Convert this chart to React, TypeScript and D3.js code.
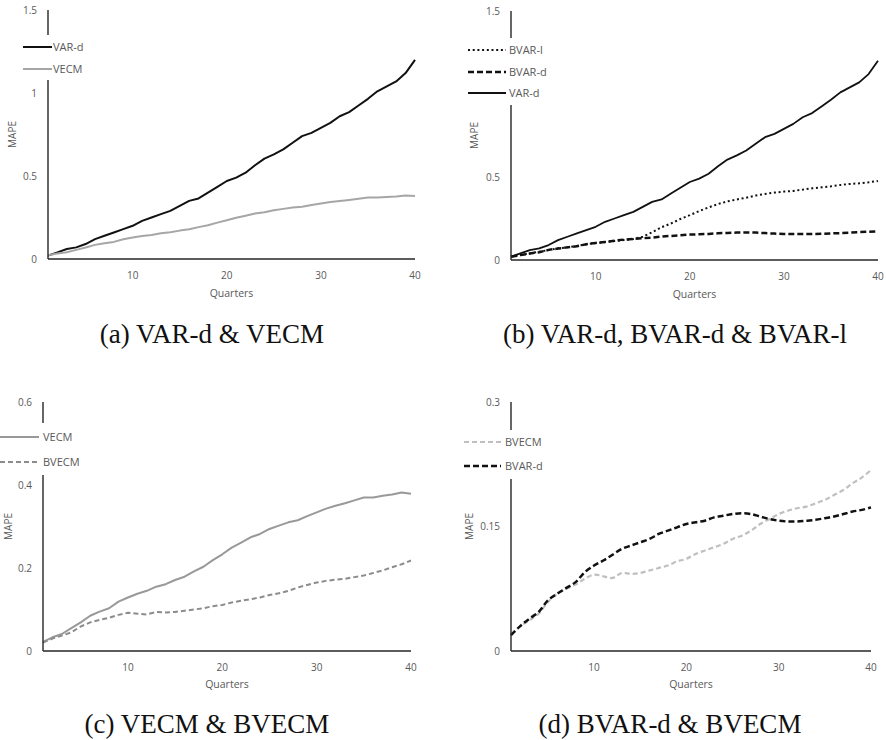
import React from 'react';
import * as d3 from 'd3';

// quarters 1..40 on the x axis
const quarters = [
  1, 2, 3, 4, 5, 6, 7, 8, 9, 10, 11, 12, 13, 14, 15, 16, 17, 18, 19, 20,
  21, 22, 23, 24, 25, 26, 27, 28, 29, 30, 31, 32, 33, 34, 35, 36, 37, 38, 39, 40,
];

const varD = [
  0.02, 0.04, 0.06, 0.07, 0.09, 0.12, 0.14, 0.16, 0.18, 0.2,
  0.23, 0.25, 0.27, 0.29, 0.32, 0.35, 0.365, 0.4, 0.435, 0.47,
  0.49, 0.52, 0.565, 0.605, 0.63, 0.66, 0.7, 0.74, 0.76, 0.79,
  0.82, 0.86, 0.885, 0.925, 0.965, 1.01, 1.04, 1.07, 1.12, 1.2,
];

const vecm = [
  0.022, 0.033, 0.041, 0.055, 0.069, 0.085, 0.095, 0.103, 0.119, 0.129,
  0.138, 0.145, 0.155, 0.161, 0.171, 0.179, 0.192, 0.203, 0.219, 0.233,
  0.249, 0.261, 0.274, 0.282, 0.294, 0.302, 0.31, 0.315, 0.325, 0.334,
  0.343, 0.35, 0.356, 0.363, 0.37, 0.37, 0.374, 0.377, 0.382, 0.379,
];

const bvarD = [
  0.019, 0.03, 0.039, 0.047, 0.061, 0.069, 0.076, 0.083, 0.095, 0.103,
  0.109, 0.116, 0.123, 0.127, 0.131, 0.135, 0.141, 0.145, 0.149, 0.153,
  0.155, 0.157, 0.161, 0.163, 0.165, 0.166, 0.165, 0.162, 0.159, 0.157,
  0.156, 0.156, 0.157, 0.158, 0.16, 0.162, 0.165, 0.168, 0.17, 0.173,
];

const bvarL = [
  0.02, 0.03, 0.04, 0.05, 0.06, 0.07, 0.077, 0.085, 0.095, 0.102,
  0.108, 0.114, 0.12, 0.126, 0.14, 0.167, 0.197, 0.22, 0.247, 0.27,
  0.295, 0.317, 0.337, 0.353, 0.365, 0.375, 0.388, 0.398, 0.406, 0.412,
  0.416, 0.424, 0.432, 0.438, 0.444, 0.452, 0.458, 0.462, 0.468, 0.476,
];

const bvecm = [
  0.02, 0.03, 0.037, 0.045, 0.059, 0.069, 0.075, 0.08, 0.087, 0.092,
  0.09, 0.088, 0.094, 0.093, 0.094, 0.097, 0.1, 0.103, 0.108, 0.111,
  0.117, 0.121, 0.125, 0.129, 0.135, 0.139, 0.145, 0.153, 0.159, 0.165,
  0.169, 0.172, 0.174, 0.178, 0.182, 0.188, 0.194, 0.202, 0.209, 0.218,
];

const xTickLabels = [10, 20, 30, 40];
const ticksA = ['0', '0.5', '1', '1.5'];
const ticksC = ['0', '0.2', '0.4', '0.6'];
const ticksD = ['0', '0.15', '0.3'];

const SANS = '"Open Sans", sans-serif';
const GREY_TXT = '#595959';

type Series = {name: string; values: number[]; color: string; width: number; dash?: string; smooth?: boolean};

type Panel = {
  x0: number; x1: number; top: number; bottom: number;
  yMax: number; yTicks: string[];
  series: Series[]; legendOrder: number[];
  legend: {x: number; y: number; w: number; h: number; rows: number[]; lx0: number; lx1: number; tx: number};
  mapeX: number; quartersY: number;
  caption: string; capX: number; capY: number;
};

const panels: Panel[] = [
  {
    x0: 48, x1: 415, top: 10, bottom: 259, yMax: 1.5, yTicks: ticksA,
    series: [
      {name: 'VAR-d', values: varD, color: '#111', width: 2},
      {name: 'VECM', values: vecm, color: '#a6a6a6', width: 2},
    ],
    legendOrder: [0, 1],
    legend: {x: 14, y: 35, w: 80, h: 45, rows: [47, 69], lx0: 23, lx1: 52, tx: 53},
    mapeX: 12, quartersY: 297,
    caption: '(a) VAR-d & VECM', capX: 212, capY: 343,
  },
  {
    x0: 511, x1: 878, top: 11, bottom: 260, yMax: 1.5, yTicks: ticksA,
    series: [
      {name: 'BVAR-l', values: bvarL, color: '#111', width: 2, dash: '2,2.7'},
      {name: 'BVAR-d', values: bvarD, color: '#111', width: 2.5, dash: '6,3'},
      {name: 'VAR-d', values: varD, color: '#111', width: 1.8},
    ],
    legendOrder: [0, 1, 2],
    legend: {x: 462, y: 38, w: 100, h: 67, rows: [50, 72, 93], lx0: 468, lx1: 506, tx: 509},
    mapeX: 474, quartersY: 298,
    caption: '(b) VAR-d, BVAR-d & BVAR-l', capX: 675, capY: 343,
  },
  {
    x0: 43, x1: 411, top: 402, bottom: 651, yMax: 0.6, yTicks: ticksC,
    series: [
      {name: 'VECM', values: vecm, color: '#999', width: 2},
      {name: 'BVECM', values: bvecm, color: '#8c8c8c', width: 2, dash: '5,3'},
    ],
    legendOrder: [0, 1],
    legend: {x: 0, y: 423, w: 90, h: 52, rows: [437, 462], lx0: 0, lx1: 39, tx: 43},
    mapeX: 8, quartersY: 688,
    caption: '(c) VECM & BVECM', capX: 207, capY: 733,
  },
  {
    x0: 511, x1: 871, top: 402, bottom: 651, yMax: 0.3, yTicks: ticksD,
    series: [
      {name: 'BVECM', values: bvecm, color: '#bfbfbf', width: 2.2, dash: '5,3', smooth: true},
      {name: 'BVAR-d', values: bvarD, color: '#111', width: 2.5, dash: '6,3', smooth: true},
    ],
    legendOrder: [0, 1],
    legend: {x: 458, y: 430, w: 95, h: 49, rows: [442, 466], lx0: 464, lx1: 501, tx: 505},
    mapeX: 469, quartersY: 688,
    caption: '(d) BVAR-d & BVECM', capX: 670, capY: 733,
  },
];

const PanelChart = ({p}: {p: Panel}) => {
  const x = d3.scaleLinear().domain([1, 40]).range([p.x0, p.x1]);
  const y = d3.scaleLinear().domain([0, p.yMax]).range([p.bottom, p.top]);
  const midY = (p.top + p.bottom) / 2;
  const midX = (p.x0 + p.x1) / 2;

  return (
    <g>
      {/* series */}
      {p.series.map((s, i) => {
        const line = d3.line<number>()
          .x((_, j) => x(quarters[j]))
          .y(v => y(v))
          .curve(s.smooth ? d3.curveCatmullRom : d3.curveLinear);
        return (
          <path key={i} d={line(s.values) || ''} fill="none" stroke={s.color}
            strokeWidth={s.width} strokeDasharray={s.dash} strokeLinejoin="round" />
        );
      })}
      {/* axes */}
      <line x1={p.x0} x2={p.x0} y1={p.top} y2={p.bottom} stroke="#262626" strokeWidth={1.4} />
      <line x1={p.x0} x2={p.x1} y1={p.bottom} y2={p.bottom} stroke="#262626" strokeWidth={1.4} />
      {p.yTicks.map(t => (
        <text key={t} x={p.x0 - 11} y={y(+t)} dy="0.35em" textAnchor="end"
          fontFamily={SANS} fontSize={10} fill={GREY_TXT}>{t}</text>
      ))}
      {xTickLabels.map(t => (
        <text key={t} x={x(t)} y={p.bottom + 20} textAnchor="middle"
          fontFamily={SANS} fontSize={10} fill={GREY_TXT}>{t}</text>
      ))}
      <text transform={`translate(${p.mapeX},${midY}) rotate(-90)`} dy="0.35em" textAnchor="middle"
        fontFamily={SANS} fontSize={10} fill={GREY_TXT}>MAPE</text>
      <text x={midX} y={p.quartersY} textAnchor="middle"
        fontFamily={SANS} fontSize={10.5} fill={GREY_TXT}>Quarters</text>
      {/* legend box covers the y axis */}
      <rect x={p.legend.x} y={p.legend.y} width={p.legend.w} height={p.legend.h} fill="#fff" />
      {p.legendOrder.map((si, k) => {
        const s = p.series[si];
        const ry = p.legend.rows[k];
        return (
          <g key={k}>
            <line x1={p.legend.lx0} x2={p.legend.lx1} y1={ry} y2={ry} stroke={s.color}
              strokeWidth={s.width} strokeDasharray={s.dash} />
            <text x={p.legend.tx} y={ry} dy="0.35em" fontFamily={SANS} fontSize={11} fill={GREY_TXT}>{s.name}</text>
          </g>
        );
      })}
      <text x={p.capX} y={p.capY} textAnchor="middle" fontFamily='"Liberation Serif", serif'
        fontSize={27} fill="#111">{p.caption}</text>
    </g>
  );
};

export default function App() {
  return (
    <svg width={886} height={740} style={{position: 'absolute', left: 0, top: 0, background: '#fff'}}>
      <rect width={886} height={740} fill="#fff" />
      {panels.map((p, i) => <PanelChart key={i} p={p} />)}
    </svg>
  );
}
